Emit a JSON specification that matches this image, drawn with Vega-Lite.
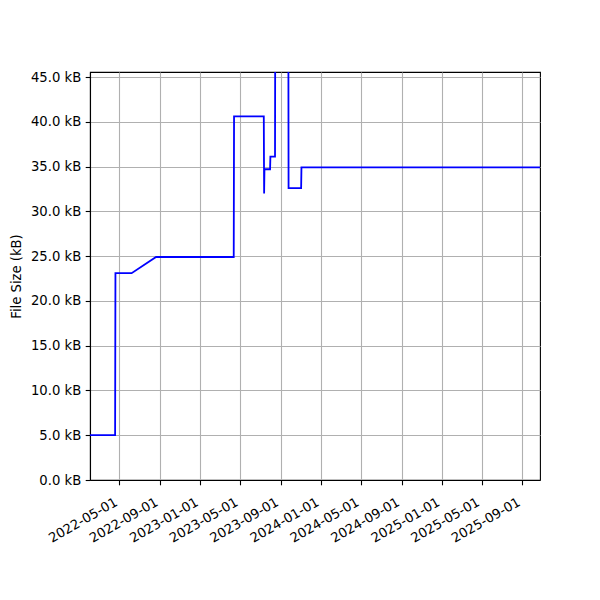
{
  "$schema": "https://vega.github.io/schema/vega-lite/v6.json",
  "width": 450,
  "height": 408,
  "autosize": {"type": "none"},
  "padding": {"left": 90, "top": 72, "right": 60, "bottom": 120},
  "background": "white",
  "config": {
    "font": "DejaVu Sans",
    "view": {"stroke": "black", "strokeWidth": 1.1},
    "axis": {
      "labelFont": "DejaVu Sans",
      "titleFont": "DejaVu Sans",
      "labelFontSize": 13.2,
      "titleFontSize": 13.2,
      "titleFontWeight": "normal",
      "labelColor": "black",
      "titleColor": "black",
      "domainColor": "black",
      "domainWidth": 1.1,
      "tickColor": "black",
      "tickWidth": 1.1,
      "tickSize": 4.8,
      "labelPadding": 4.5,
      "gridColor": "#b0b0b0",
      "gridWidth": 1.1,
      "gridOpacity": 1
    }
  },
  "data": {
    "values": [
      {"date": "2022-02-01", "size": 5.0},
      {"date": "2022-04-18", "size": 5.0},
      {"date": "2022-04-19", "size": 23.1},
      {"date": "2022-06-07", "size": 23.1},
      {"date": "2022-08-20", "size": 24.9},
      {"date": "2023-04-12", "size": 24.9},
      {"date": "2023-04-13", "size": 40.6},
      {"date": "2023-07-12", "size": 40.6},
      {"date": "2023-07-13", "size": 32.0},
      {"date": "2023-07-14", "size": 34.7},
      {"date": "2023-07-31", "size": 34.7},
      {"date": "2023-08-01", "size": 36.1},
      {"date": "2023-08-15", "size": 36.1},
      {"date": "2023-08-16", "size": 60.0},
      {"date": "2023-09-24", "size": 60.0},
      {"date": "2023-09-25", "size": 32.6},
      {"date": "2023-11-02", "size": 32.6},
      {"date": "2023-11-03", "size": 34.9},
      {"date": "2025-10-25", "size": 34.9}
    ]
  },
  "mark": {"type": "line", "color": "#0000ff", "strokeWidth": 1.8, "clip": true},
  "encoding": {
    "x": {
      "field": "date",
      "type": "temporal",
      "scale": {"type": "utc", "domain": [{"year": 2022, "month": 2, "date": 1, "utc": true}, {"year": 2025, "month": 10, "date": 25, "utc": true}], "nice": false},
      "axis": {
        "title": null,
        "values": [
          {"year": 2022, "month": 5, "date": 1, "utc": true},
          {"year": 2022, "month": 9, "date": 1, "utc": true},
          {"year": 2023, "month": 1, "date": 1, "utc": true},
          {"year": 2023, "month": 5, "date": 1, "utc": true},
          {"year": 2023, "month": 9, "date": 1, "utc": true},
          {"year": 2024, "month": 1, "date": 1, "utc": true},
          {"year": 2024, "month": 5, "date": 1, "utc": true},
          {"year": 2024, "month": 9, "date": 1, "utc": true},
          {"year": 2025, "month": 1, "date": 1, "utc": true},
          {"year": 2025, "month": 5, "date": 1, "utc": true},
          {"year": 2025, "month": 9, "date": 1, "utc": true}
        ],
        "labelExpr": "utcFormat(datum.value, '%Y-%m-%d')",
        "labelAngle": -30,
        "labelAlign": "right",
        "labelBaseline": "bottom",
        "labelPadding": 22,
        "labelFlush": false,
        "labelOverlap": false,
        "grid": true
      }
    },
    "y": {
      "field": "size",
      "type": "quantitative",
      "scale": {"domain": [0, 45.56], "nice": false, "zero": false},
      "axis": {
        "title": "File Size (kB)",
        "values": [0, 5, 10, 15, 20, 25, 30, 35, 40, 45],
        "labelExpr": "format(datum.value, '.1f') + ' kB'",
        "titlePadding": 7,
        "grid": true
      }
    }
  }
}
